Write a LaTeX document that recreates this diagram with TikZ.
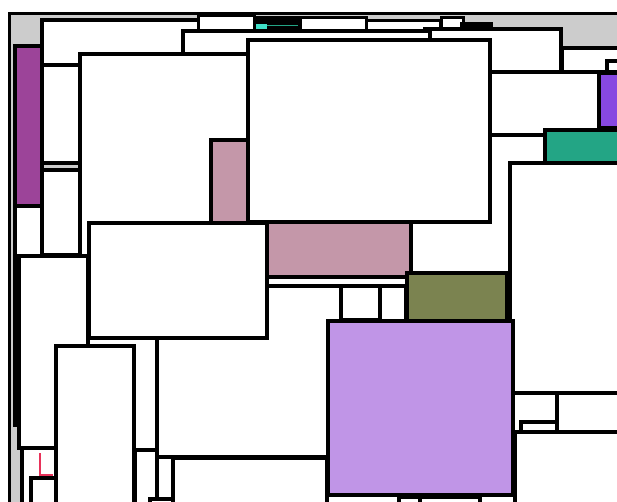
\documentclass[tikz,border=0pt]{standalone}
\usepackage{tikz}
\usetikzlibrary{calc}
\definecolor{mGray}{HTML}{CCCCCC}
\definecolor{mMagenta}{HTML}{9C4499}
\definecolor{mViolet}{HTML}{8748E1}
\definecolor{mTeal}{HTML}{23A585}
\definecolor{mMauve}{HTML}{C497A9}
\definecolor{mOlive}{HTML}{7B8350}
\definecolor{mLilac}{HTML}{C095E7}
\definecolor{mCyan}{HTML}{40E0C8}
\definecolor{mRed}{HTML}{E8325A}
\tikzset{
  box/.style={draw=black,line width=4pt,fill=white},
  thinbox/.style={draw=black,line width=3pt,fill=white}
}
\begin{document}
\begin{tikzpicture}[x=1pt,y=-1pt]
\useasboundingbox (0,0) rectangle (617,502);
\fill[white] (0,0) rectangle (617,502);
\clip (0,0) rectangle (617,502);

% outer frame
\draw[fill=mGray,line width=3pt] (9,14) rectangle (640,530);

% left column
\draw[box,fill=mMagenta] (15,46) rectangle (42,206);
\draw[box] (15,206) rectangle (42,425);

% top strip
\draw[box] (42,20) rectangle (250,110);
\draw[thinbox] (198,16) rectangle (254,31);
\draw[fill=black] (253,16) rectangle (302,31);
\fill[mCyan] (256,24) rectangle (267,29);
\draw[mTeal,line width=0.6pt] (267,25) -- (298,25);
\foreach \xa/\ya/\xb/\yb in {300/18/366/31, 300/33/366/38, 366/21/440/39, 441/18/463/29} {
  \draw[thinbox] (\xa,\ya) rectangle (\xb,\yb);
}
\draw[fill=black] (460,22) rectangle (492,29);
\draw[box] (425,29) rectangle (561,72);
\draw[box] (183,31) rectangle (430,80);

% stacked boxes on the left
\draw[box] (42,65) rectangle (80,163);
\draw[box] (42,170) rectangle (80,255);
\draw[box] (80,54) rectangle (250,300);

% right top
\draw[box] (562,48) rectangle (640,72);
\draw[box] (607,61) rectangle (640,72);
\draw[box] (490,72) rectangle (600,135);
\draw[box,fill=mViolet] (599,73) rectangle (640,128);
\draw[box] (400,135) rectangle (545,275);
\fill[white] (86,278) rectangle (520,530);
\draw[box,fill=mTeal] (545,130) rectangle (640,163);

% centre
\draw[box,fill=mMauve] (211,140) rectangle (411,277);
\draw[box] (248,40) rectangle (490,222);
\draw[box] (510,163) rectangle (640,393);
\draw[box] (19,256) rectangle (88,448);
\draw[box] (345,286) rectangle (406,321);
\draw[box] (157,286) rectangle (345,457);
\draw[box] (89,223) rectangle (267,338);
\draw[box] (341,286) rectangle (380,320);
\draw[box,fill=mOlive] (407,273) rectangle (507,322);

% bottom left
\draw[box] (56,346) rectangle (134,530);
\draw[box] (135,450) rectangle (157,530);
\draw[box] (150,499) rectangle (173,530);
\draw[box] (173,458) rectangle (327,530);
\draw[box] (22,448) rectangle (56,530);
\draw[mRed,line width=1.5pt] (40,453) -- (40,475) -- (53,475);
\draw[box] (31,478) rectangle (56,530);

% bottom right
\draw[box] (513,393) rectangle (557,432);
\draw[box] (557,393) rectangle (640,432);
\draw[box] (521,422) rectangle (557,432);
\draw[box] (515,432) rectangle (640,530);
\draw[box,fill=mLilac] (328,321) rectangle (513,495);
\draw[box] (399,497) rectangle (420,530);
\draw[box] (420,497) rectangle (480,530);
\end{tikzpicture}
\end{document}
